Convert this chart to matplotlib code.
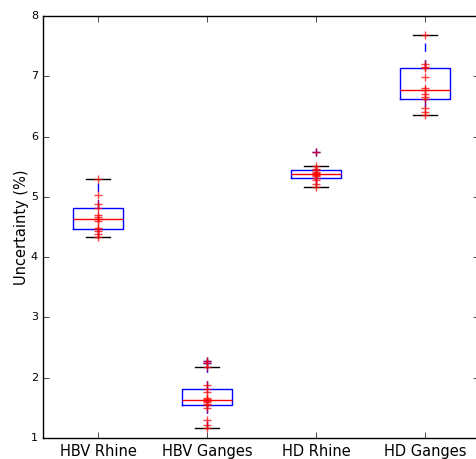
import numpy as np
import matplotlib
matplotlib.use('Agg')
import matplotlib.pyplot as plt

plt.style.use('classic')

# categorias e valores
nomes = ['HBV Rhine', 'HBV Ganges', 'HD Rhine', 'HD Ganges']

hbv_rhine = [4.34, 4.39, 4.44, 4.46, 4.48, 4.60, 4.64, 4.67, 4.70, 4.81, 4.88, 5.03, 5.30]
hbv_ganges = [1.17, 1.22, 1.30, 1.49, 1.54, 1.57, 1.59, 1.61, 1.625, 1.64, 1.66, 1.76,
              1.81, 1.88, 2.18, 2.25, 2.28]
hd_rhine = [5.16, 5.22, 5.28, 5.32, 5.34, 5.36, 5.38, 5.40, 5.42, 5.44, 5.47, 5.51, 5.74]
hd_ganges = [6.35, 6.40, 6.47, 6.63, 6.66, 6.70, 6.77, 6.80, 6.98, 7.13, 7.15, 7.20, 7.68]

dados = [hbv_rhine, hbv_ganges, hd_rhine, hd_ganges]

fig = plt.figure(figsize=(4.77, 4.59), facecolor='white')
ax = fig.add_axes([43.5 / 477, 21 / 459, 436 / 477, 422 / 459])
ax.set_facecolor('white')

ax.boxplot(dados, flierprops=dict(marker='+', markeredgecolor='b', markersize=6))

# pontos individuais por cima das caixas
for i, d in enumerate(dados):
    ax.plot(np.full(len(d), i + 1), d, 'r+', alpha=0.75, markersize=6,
            markeredgewidth=1.0, zorder=5)

ax.set_ylim(1, 8)
ax.set_xlim(0.5, 4.5)
ax.set_xticks([1, 2, 3, 4])
ax.set_xticklabels(nomes, fontsize=10.5)
ax.tick_params(axis='y', labelsize=8)
ax.set_ylabel('Uncertainty (%)', fontsize=10.5, labelpad=1)

fig.savefig('out.png', dpi=100, facecolor='white')
